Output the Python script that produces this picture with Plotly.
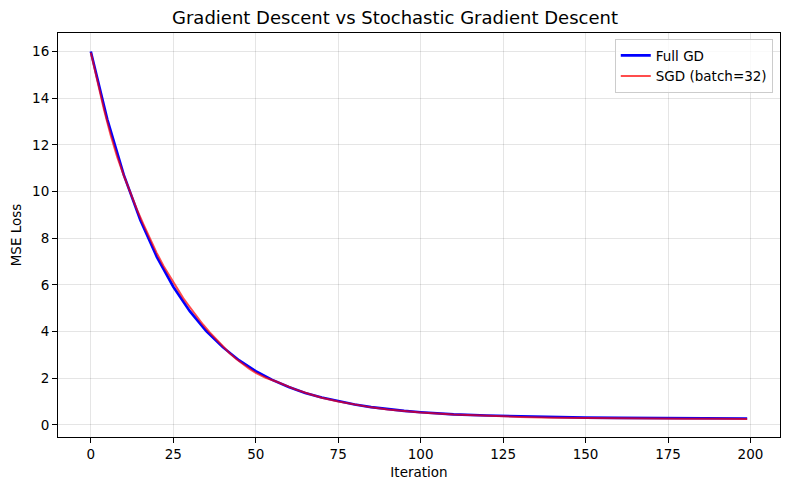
import plotly.graph_objects as go

# values
iters = [0, 5, 10, 15, 20, 25, 30, 35, 40, 45, 50, 55, 60, 65, 70, 75, 80, 85, 90, 95,
         100, 110, 120, 130, 140, 150, 160, 170, 180, 190, 199]
gd_loss = [16.00, 13.09, 10.71, 8.78, 7.20, 5.92, 4.87, 4.02, 3.33, 2.76, 2.30, 1.93,
           1.62, 1.37, 1.17, 1.01, 0.87, 0.76, 0.67, 0.60, 0.54, 0.45, 0.40, 0.36,
           0.33, 0.31, 0.30, 0.29, 0.28, 0.28, 0.27]

sgd_iters = [0, 2, 4, 6, 8, 10, 12, 14, 16, 18, 20, 22, 24, 26, 28, 30, 32, 34, 36, 38,
             40, 42, 44, 46, 48, 50, 53, 56, 59, 62, 66, 70, 75, 80, 85, 90, 95, 100,
             110, 120, 130, 140, 150, 160, 170, 180, 190, 199]
sgd_loss = [15.95, 14.70, 13.50, 12.42, 11.48, 10.68, 9.92, 9.22, 8.58, 7.95, 7.36, 6.82,
            6.34, 5.86, 5.43, 5.05, 4.66, 4.30, 3.97, 3.66, 3.36, 3.08, 2.83, 2.60, 2.41,
            2.23, 2.02, 1.87, 1.70, 1.52, 1.33, 1.16, 1.00, 0.86, 0.75, 0.66, 0.59, 0.53,
            0.44, 0.38, 0.34, 0.31, 0.29, 0.28, 0.27, 0.26, 0.26, 0.25]

fig = go.Figure()
fig.add_trace(go.Scatter(x=iters, y=gd_loss, mode="lines", name="Full GD",
                         line=dict(color="blue", width=2.6)))
fig.add_trace(go.Scatter(x=sgd_iters, y=sgd_loss, mode="lines", name="SGD (batch=32)",
                         line=dict(color="rgba(255,0,0,0.7)", width=2)))

axis_style = dict(showline=True, linecolor="black", linewidth=1, mirror=True,
                  ticks="outside", ticklen=5, tickcolor="black",
                  showgrid=True, gridcolor="rgba(0,0,0,0.1)", gridwidth=1,
                  zeroline=False, automargin=False,
                  tickfont=dict(size=13.5, color="black"))

# page body adds an 8px offset, so the figure is a bit smaller than the window
fig.update_layout(
    width=774, height=474,
    margin=dict(l=50, r=2, t=25, b=45),
    paper_bgcolor="white", plot_bgcolor="white",
    font=dict(family="DejaVu Sans", color="black"),
    title=dict(text="Gradient Descent vs Stochastic Gradient Descent",
               x=0.5, xanchor="center", y=0.979, yanchor="middle",
               automargin=False, font=dict(size=18)),
    xaxis=dict(range=[-9.95, 208.95], tickvals=[0, 25, 50, 75, 100, 125, 150, 175, 200],
               title=dict(text="Iteration", font=dict(size=13.5), standoff=6), **axis_style),
    yaxis=dict(range=[-0.52, 16.79], tickvals=[0, 2, 4, 6, 8, 10, 12, 14, 16],
               title=dict(text="MSE Loss", font=dict(size=13.5), standoff=8), **axis_style),
    legend=dict(x=0.99, y=0.985, xanchor="right", yanchor="top",
                bgcolor="rgba(255,255,255,0.8)", bordercolor="#cccccc", borderwidth=1,
                font=dict(size=13.5), tracegroupgap=0),
    showlegend=True,
)

fig.write_html("out.html")
